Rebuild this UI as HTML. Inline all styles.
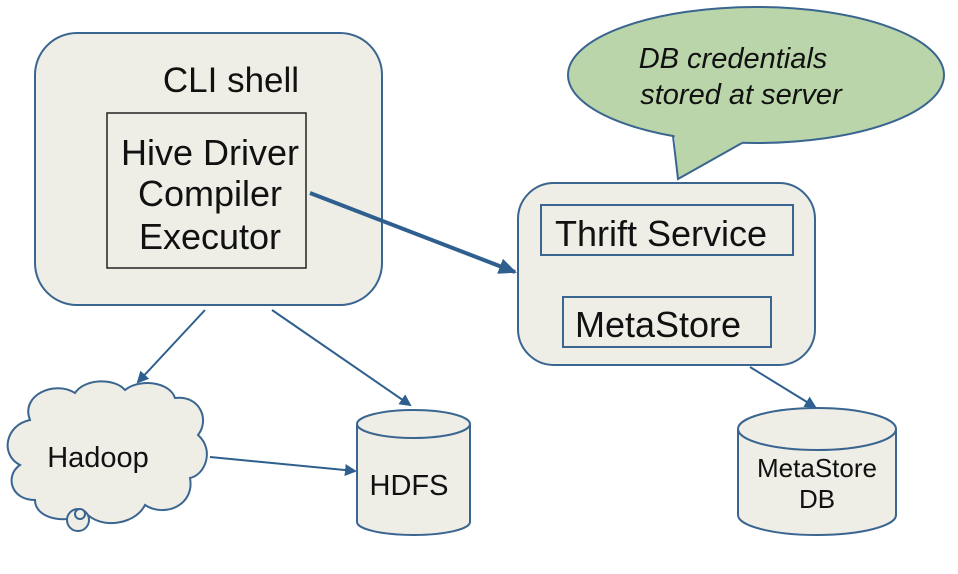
<!DOCTYPE html>
<html><head><meta charset="utf-8"><style>html,body{margin:0;padding:0;background:#fff}svg{display:block}</style></head>
<body>
<svg width="958" height="574" viewBox="0 0 958 574" xmlns="http://www.w3.org/2000/svg" font-family="Liberation Sans, Arial, sans-serif">
<defs>
<marker id="a" markerWidth="12" markerHeight="12" refX="10" refY="6" orient="auto" markerUnits="userSpaceOnUse"><path d="M0,0 L12,6 L0,12 z" fill="#2e5f8e"/></marker>
<marker id="b" markerWidth="18" markerHeight="16" refX="16" refY="8" orient="auto" markerUnits="userSpaceOnUse"><path d="M0,0 L18,8 L0,16 z" fill="#2e5f8e"/></marker>
</defs>
<g stroke="#3a6590" stroke-width="2" fill="#efeee6">
<rect x="35" y="33" width="347" height="272" rx="42"/>
<rect x="518" y="183" width="297" height="182" rx="36"/>
<ellipse cx="756" cy="75" rx="188" ry="68" fill="#b9d5a9"/>
<path d="M357,424 L357,522 A56.5,13 0 0 0 470,522 L470,424"/>
<ellipse cx="413.5" cy="424" rx="56.5" ry="14"/>
<path d="M738,429 L738,515 A79,20 0 0 0 896,515 L896,429"/>
<ellipse cx="817" cy="429" rx="79" ry="21"/>
<path d="M30,420 C20,395 55,380 75,393 C85,378 115,378 125,390 C140,378 170,382 175,398 C200,395 210,420 198,435 C215,450 205,475 190,478 C195,505 165,518 145,505 C135,525 100,530 85,512 C70,525 35,520 35,500 C10,500 5,475 20,465 C0,455 5,425 30,420 Z"/>
<circle cx="78" cy="520" r="11"/>
<circle cx="80" cy="514" r="5"/>
</g>
<path d="M674,128 L678,179 L742,143 L742,128 Z" fill="#b9d5a9" stroke="none"/>
<path d="M673,136 L678,179 L742,143" fill="none" stroke="#3a6590" stroke-width="2"/>
<rect x="107" y="113" width="199" height="155" fill="none" stroke="#222" stroke-width="1.5"/>
<rect x="541" y="205" width="252" height="50" fill="none" stroke="#3a6590" stroke-width="2"/>
<rect x="563" y="297" width="208" height="50" fill="none" stroke="#3a6590" stroke-width="2"/>
<g stroke="#2e5f8e" fill="none">
<line x1="310" y1="193" x2="515" y2="272" stroke-width="4" marker-end="url(#b)"/>
<line x1="205" y1="310" x2="138" y2="382" stroke-width="2" marker-end="url(#a)"/>
<line x1="272" y1="310" x2="410" y2="405" stroke-width="2" marker-end="url(#a)"/>
<line x1="210" y1="457" x2="355" y2="471" stroke-width="2" marker-end="url(#a)"/>
<line x1="750" y1="367" x2="815" y2="407" stroke-width="2" marker-end="url(#a)"/>
</g>
<g fill="#111" text-anchor="middle">
<text x="231" y="92" font-size="35">CLI shell</text>
<text x="210" y="165" font-size="36">Hive Driver</text>
<text x="210" y="206" font-size="36">Compiler</text>
<text x="210" y="249" font-size="36">Executor</text>
<text x="661" y="246" font-size="36">Thrift Service</text>
<text x="658" y="337" font-size="36">MetaStore</text>
<text x="733" y="68" font-size="29" font-style="italic">DB credentials</text>
<text x="741" y="104" font-size="29" font-style="italic">stored at server</text>
<text x="98" y="467" font-size="29">Hadoop</text>
<text x="409" y="495" font-size="29">HDFS</text>
<text x="817" y="477" font-size="26">MetaStore</text>
<text x="817" y="508" font-size="26">DB</text>
</g>
</svg>
</body></html>
